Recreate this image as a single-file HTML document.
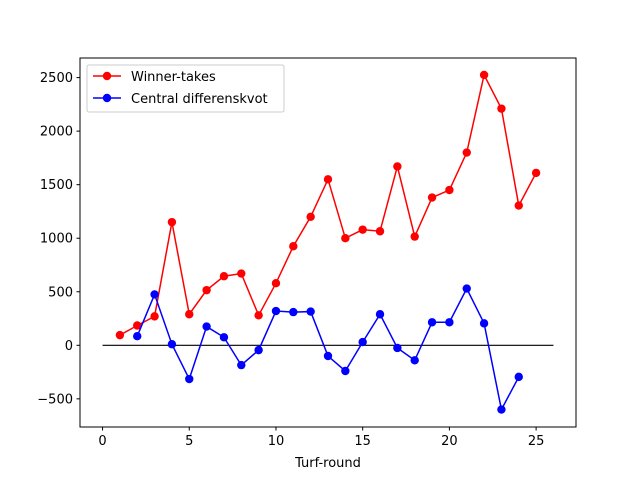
<!DOCTYPE html>
<html><head><meta charset="utf-8"><style>
body{margin:0;background:#fff;}
svg{display:block;font-family:"DejaVu Sans","Liberation Sans",sans-serif;}
</style></head><body>
<svg id="chart" width="640" height="480"></svg>
<script>
const redX=[1,2,3,4,5,6,7,8,9,10,11,12,13,14,15,16,17,18,19,20,21,22,23,24,25];
const redY=[95,185,270,1150,290,515,645,670,280,580,925,1200,1550,1000,1080,1065,1670,1015,1380,1450,1800,2525,2210,1305,1610];
const blueX=[2,3,4,5,6,7,8,9,10,11,12,13,14,15,16,17,18,19,20,21,22,23,24];
const blueY=[85,475,10,-315,175,75,-185,-45,320,310,315,-100,-240,30,290,-25,-140,215,215,530,205,-600,-295];
const xTicks=[0,5,10,15,20,25];
const yTicks=[-500,0,500,1000,1500,2000,2500];
const seriesNames=["Winner-takes","Central differenskvot"];
const L=80,R=576,T=58,B=427;
const xmin=-1.3,xmax=27.3,ymin=-763,ymax=2683;
const sx=v=>L+(v-xmin)/(xmax-xmin)*(R-L);
const sy=v=>B-(v-ymin)/(ymax-ymin)*(B-T);
const svg=document.getElementById('chart');
const NS='http://www.w3.org/2000/svg';
function mk(tag,attrs,parent){const e=document.createElementNS(NS,tag);for(const k in attrs)e.setAttribute(k,attrs[k]);(parent||svg).appendChild(e);return e;}
let z=mk('line',{x1:sx(0),x2:sx(26),y1:sy(0),y2:sy(0),stroke:'#000','stroke-width':1.2});


function series(xs,ys,color,name){
  const g=mk('g',{});
  
  
  mk('polyline',{points:xs.map((x,i)=>sx(x)+','+sy(ys[i])).join(' '),fill:'none',stroke:color,'stroke-width':1.5},g);
  xs.forEach((x,i)=>{const c=mk('circle',{cx:sx(x),cy:sy(ys[i]),r:4.2,fill:color},g);
    
    });
}
series(redX,redY,'#ff0000','winner-takes-series');
series(blueX,blueY,'#0000ff','central-differenskvot-series');
let f=mk('rect',{x:L,y:T,width:R-L,height:B-T,fill:'none',stroke:'#000','stroke-width':1});


xTicks.forEach(t=>{const x=sx(t);mk('line',{x1:x,x2:x,y1:B,y2:B+3.5,stroke:'#000'});
  const tx=mk('text',{x:x,y:B+18,'text-anchor':'middle','font-size':13});tx.textContent=t;
  
  });
yTicks.forEach(t=>{const y=sy(t);mk('line',{x1:L,x2:L-3.5,y1:y,y2:y,stroke:'#000'});
  const tx=mk('text',{x:L-7,y:y+4.5,'text-anchor':'end','font-size':13});tx.textContent=t<0?'\u2212'+(-t):t;
  
  });
let xt=mk('text',{x:(L+R)/2,y:467,'text-anchor':'middle','font-size':13});xt.textContent='Turf-round';


const lg=mk('g',{});


mk('rect',{x:87,y:65,width:197,height:47,rx:2,fill:'#fff',stroke:'#ccc'},lg);
['#ff0000','#0000ff'].forEach((c,i)=>{const y=76+i*22;
  mk('line',{x1:93,x2:121,y1:y,y2:y,stroke:c,'stroke-width':1.5},lg);
  mk('circle',{cx:107,cy:y,r:4.2,fill:c},lg);
  const t=mk('text',{x:131,y:y+5,'font-size':13},lg);t.textContent=seriesNames[i];
  
  });
</script>
</body></html>
